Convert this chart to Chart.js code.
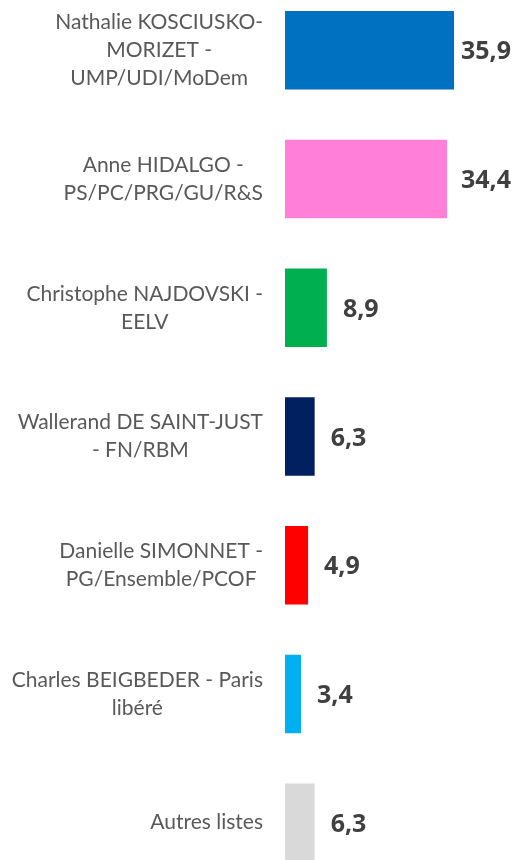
<!DOCTYPE html>
<html>
<head>
<meta charset="utf-8">
<script src="https://cdn.jsdelivr.net/npm/chart.js@4"></script>
<style>
  html, body { margin: 0; padding: 0; background: #fff; overflow: hidden; }
  #wrap { position: absolute; left: 0; top: -14px; width: 516px; height: 901px; }
</style>
</head>
<body>
<div id="wrap"><canvas id="results-chart"></canvas></div>
<script>
// categories (each one split into the lines shown in the picture)
const candidates = [
    ["Nathalie KOSCIUSKO-", "MORIZET -", "UMP/UDI/MoDem"],
    ["Anne HIDALGO -", "PS/PC/PRG/GU/R&S"],
    ["Christophe NAJDOVSKI -", "EELV"],
    ["Wallerand DE SAINT-JUST", "- FN/RBM"],
    ["Danielle SIMONNET -", "PG/Ensemble/PCOF"],
    ["Charles BEIGBEDER - Paris", "libéré"],
    ["Autres listes"]
];
const scores = [35.9, 34.4, 8.9, 6.3, 4.9, 3.4, 6.3];
const barColors = ["#0070C0", "#FF7FD9", "#00B050", "#002060", "#FF0000", "#00B0F0", "#D9D9D9"];

// draws the candidate names right-aligned as a block, lines centered inside it
const namesPlugin = {
    id: "names",
    afterDraw(chart) {
        const ctx = chart.ctx;
        const yScale = chart.scales.y;
        const rightEdge = 263;
        const lineHeight = 28;
        ctx.save();
        ctx.font = "21px Lato";
        ctx.fillStyle = "#595959";
        ctx.textAlign = "center";
        ctx.textBaseline = "middle";
        candidates.forEach((lines, i) => {
            const widest = Math.max(...lines.map(l => ctx.measureText(l).width));
            const cx = rightEdge - widest / 2;
            const cy = yScale.getPixelForValue(i);
            const top = cy - (lines.length - 1) * lineHeight / 2;
            lines.forEach((l, j) => ctx.fillText(l, cx, top + j * lineHeight));
        });
        ctx.restore();
    }
};

// value next to the end of each bar, kept inside the right edge
const valuesPlugin = {
    id: "values",
    afterDatasetsDraw(chart) {
        const ctx = chart.ctx;
        const meta = chart.getDatasetMeta(0);
        ctx.save();
        ctx.font = "bold 25px 'Open Sans'";
        ctx.fillStyle = "#404040";
        ctx.textAlign = "left";
        ctx.textBaseline = "middle";
        meta.data.forEach((bar, i) => {
            const txt = scores[i].toFixed(1).replace(".", ",");
            const w = ctx.measureText(txt).width;
            const x = Math.min(bar.x + 16, 511 - w);
            ctx.fillText(txt, x, bar.y + 2);
        });
        ctx.restore();
    }
};

new Chart(document.getElementById("results-chart"), {
    type: "bar",
    data: {
        labels: candidates,
        datasets: [{
            data: scores,
            backgroundColor: barColors,
            barPercentage: 0.61,
            categoryPercentage: 1
        }]
    },
    options: {
        indexAxis: "y",
        responsive: true,
        maintainAspectRatio: false,
        animation: false,
        layout: { padding: { left: 285, right: 5, top: 0, bottom: 0 } },
        plugins: { legend: { display: false }, tooltip: { enabled: false } },
        scales: {
            x: { min: 0, max: 48, display: false },
            y: { display: false }
        }
    },
    plugins: [namesPlugin, valuesPlugin]
});
</script>
</body>
</html>
